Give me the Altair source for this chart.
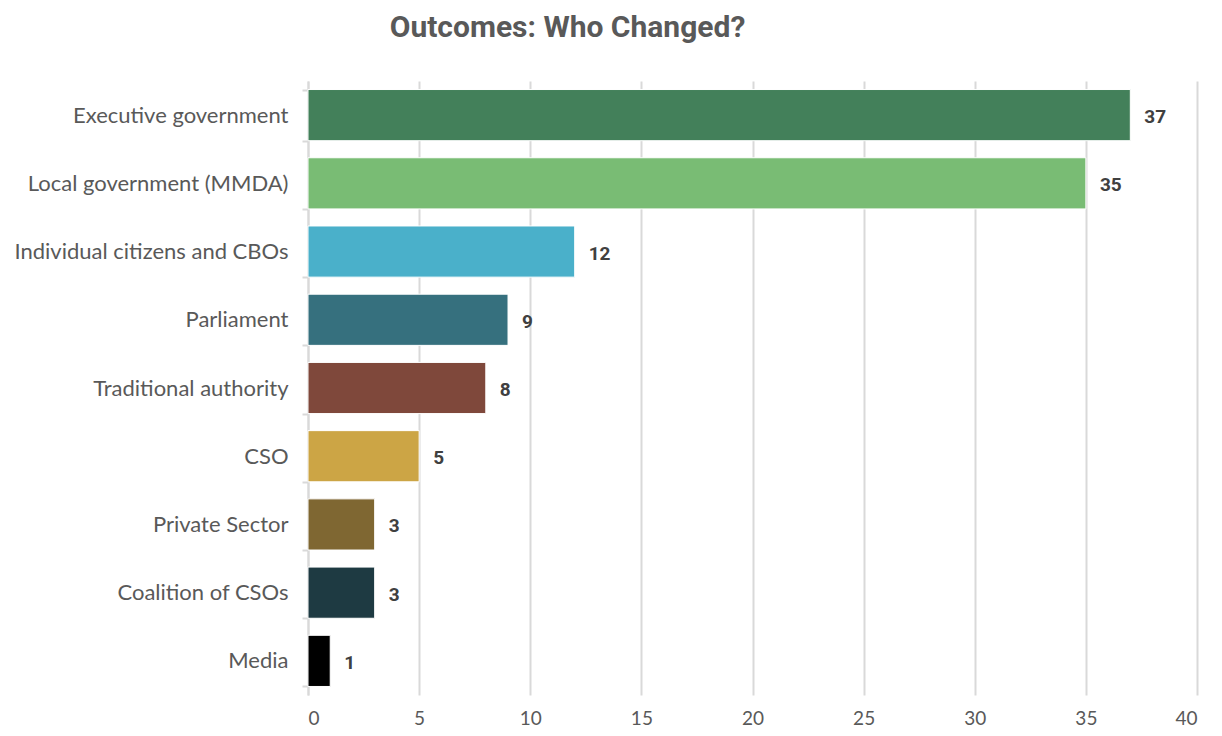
import altair as alt
import pandas as pd

categories = [
    "Executive government",
    "Local government (MMDA)",
    "Individual citizens and CBOs",
    "Parliament ",
    "Traditional authority",
    "CSO",
    "Private Sector",
    "Coalition of CSOs",
    "Media",
]
values = [37, 35, 12, 9, 8, 5, 3, 3, 1]
colors = ["#43805A", "#79BC74", "#4AB0CA", "#36707E", "#7F483B",
          "#CCA545", "#7F6732", "#1E3A42", "#000000"]
x_ticks = [0, 5, 10, 15, 20, 25, 30, 35, 40]

df = pd.DataFrame({"cat": categories, "val": values})

label_font = "Lato"
num_font = "Roboto"

y_enc = alt.Y(
    "cat:N", sort=categories, title=None,
    scale=alt.Scale(paddingInner=0.25, paddingOuter=0.125),
    axis=alt.Axis(
        labelFont=label_font, labelFontSize=22, labelColor="#595959",
        labelPadding=14, labelLimit=400,
        domainColor="#d9d9d9", domainWidth=2,
        tickColor="#d9d9d9", tickSize=6, tickBand="extent", tickWidth=2,
    ),
)
x_enc = alt.X(
    "val:Q", title=None,
    scale=alt.Scale(domain=[0, 40], nice=False, zero=True),
    axis=alt.Axis(
        values=x_ticks, grid=True, gridColor="#d9d9d9", gridWidth=2,
        domain=False, ticks=False,
        labelFont=label_font, labelFontSize=19, labelColor="#595959",
        labelPadding=14,
    ),
)

bars = alt.Chart(df).mark_bar(stroke="white", strokeWidth=1).encode(
    x=x_enc, y=y_enc,
    color=alt.Color("cat:N", scale=alt.Scale(domain=categories, range=colors), legend=None),
)
text = alt.Chart(df).mark_text(
    align="left", baseline="middle", dx=14, dy=2,
    font=num_font, fontWeight="bold", fontSize=19, color="#404040",
).encode(x="val:Q", y=alt.Y("cat:N", sort=categories), text="val:Q")

chart = (bars + text).properties(
    width=889, height=614,
    title=alt.TitleParams(
        "Outcomes: Who Changed?", font=num_font, fontSize=30, fontWeight="bold",
        color="#595959", anchor="middle", frame="bounds", offset=27, dx=-38,
    ),
).configure(background="white").configure_view(strokeWidth=0, stroke="transparent")

chart.save("out.html", embed_options={"renderer": "svg", "actions": False})
